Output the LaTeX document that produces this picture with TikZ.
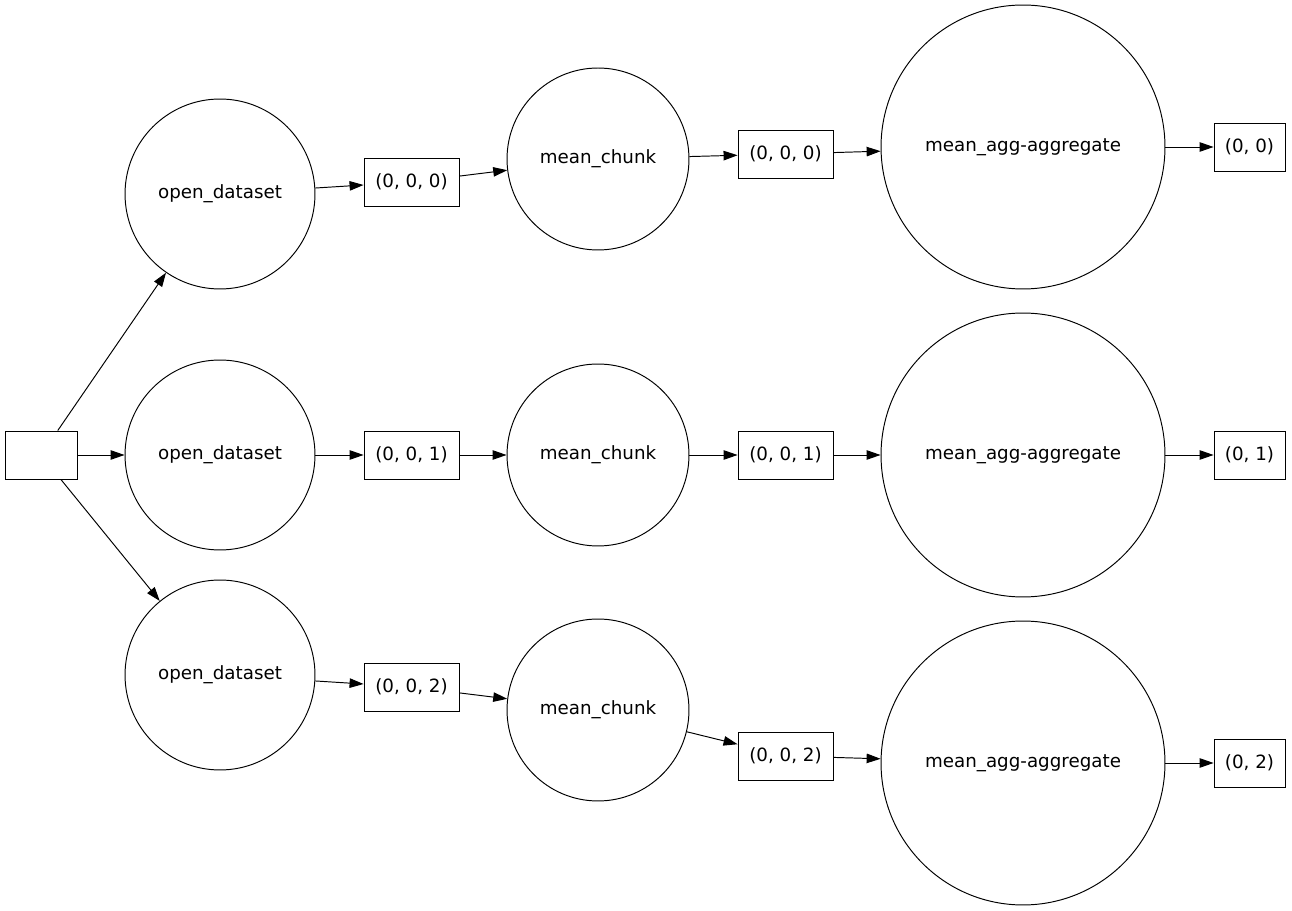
\documentclass[tikz,border=0pt]{standalone}
\usepackage{fontspec}
\setmainfont{DejaVu Sans}
\usetikzlibrary{arrows.meta}

\begin{document}
\begin{tikzpicture}[x=0.02cm, y=-0.02cm, font=\fontsize{10.4pt}{12pt}\selectfont]
\tikzset{rond/.style={draw, circle, inner sep=0pt, line width=0.55pt},
  boite/.style={draw, rectangle, minimum width=1.9cm, minimum height=0.96cm, inner sep=0pt, line width=0.5pt},
  fleche/.style={line width=0.55pt, -{Triangle[length=0.28cm, width=0.19cm]}}}
\useasboundingbox (0, 0) rectangle (1292, 911);
\node[boite, minimum width=1.44cm] (S) at (41, 455) {};
\node[rond, minimum size=3.8cm] (O1) at (220, 194) {open\_dataset};
\node[rond, minimum size=3.8cm] (O2) at (220, 455) {open\_dataset};
\node[rond, minimum size=3.8cm] (O3) at (220, 675) {open\_dataset};
\node[boite] (B1) at (411.5, 182) {(0, 0, 0)};
\node[boite] (B2) at (411.5, 455) {(0, 0, 1)};
\node[boite] (B3) at (411.5, 687) {(0, 0, 2)};
\node[rond, minimum size=3.64cm] (M1) at (598, 159) {mean\_chunk};
\node[rond, minimum size=3.64cm] (M2) at (598, 455) {mean\_chunk};
\node[rond, minimum size=3.64cm] (M3) at (598, 710) {mean\_chunk};
\node[boite] (C1) at (785.5, 154) {(0, 0, 0)};
\node[boite] (C2) at (785.5, 455) {(0, 0, 1)};
\node[boite] (C3) at (785.5, 756) {(0, 0, 2)};
\node[rond, minimum size=5.68cm] (A1) at (1023, 147) {mean\_agg-aggregate};
\node[rond, minimum size=5.68cm] (A2) at (1023, 455) {mean\_agg-aggregate};
\node[rond, minimum size=5.68cm] (A3) at (1023, 763) {mean\_agg-aggregate};
\node[boite, minimum width=1.42cm] (R1) at (1249.5, 147) {(0, 0)};
\node[boite, minimum width=1.42cm] (R2) at (1249.5, 455) {(0, 1)};
\node[boite, minimum width=1.42cm] (R3) at (1249.5, 763) {(0, 2)};
\draw[fleche] (S) -- (O1);
\draw[fleche] (S) -- (O2);
\draw[fleche] (S) -- (O3);
\draw[fleche] (O1) -- (B1);
\draw[fleche] (O2) -- (B2);
\draw[fleche] (O3) -- (B3);
\draw[fleche] (B1) -- (M1);
\draw[fleche] (B2) -- (M2);
\draw[fleche] (B3) -- (M3);
\draw[fleche] (M1) -- (C1);
\draw[fleche] (M2) -- (C2);
\draw[fleche] (M3) -- (C3);
\draw[fleche] (C1) -- (A1);
\draw[fleche] (C2) -- (A2);
\draw[fleche] (C3) -- (A3);
\draw[fleche] (A1) -- (R1);
\draw[fleche] (A2) -- (R2);
\draw[fleche] (A3) -- (R3);
\end{tikzpicture}
\end{document}
